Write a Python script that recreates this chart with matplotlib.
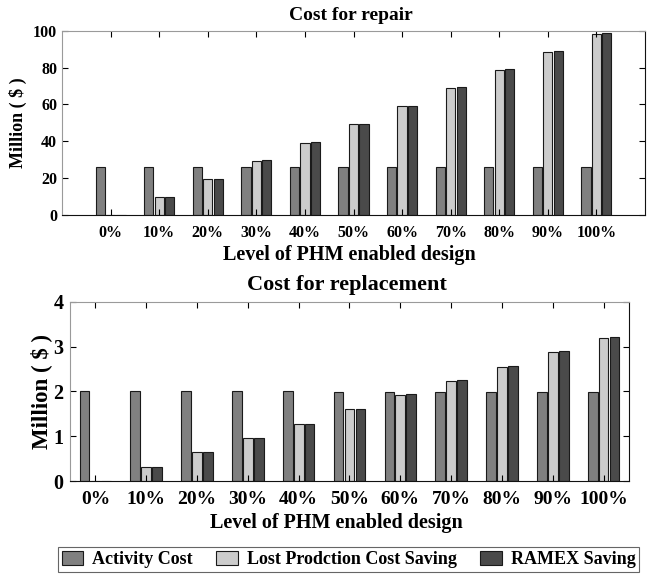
import matplotlib
matplotlib.use('Agg')
import matplotlib.pyplot as plt
import numpy as np

plt.rcParams['font.family'] = ['Liberation Serif', 'DejaVu Serif']
plt.rcParams['font.weight'] = 'bold'

levels = ['0%', '10%', '20%', '30%', '40%', '50%', '60%', '70%', '80%', '90%', '100%']
series_names = ['Activity Cost', 'Lost Prodction Cost Saving', 'RAMEX Saving']

# cost for repair (million $)
repair_activity = [26.3, 26.3, 26.3, 26.2, 26.1, 26.1, 26.0, 26.0, 25.9, 25.8, 25.8]
repair_lost = [0, 9.8, 19.7, 29.5, 39.3, 49.2, 59.0, 68.9, 78.7, 88.5, 98.4]
repair_ramex = [0, 9.9, 19.8, 29.6, 39.5, 49.4, 59.3, 69.2, 79.0, 88.9, 98.8]

# cost for replacement (million $)
replace_activity = [2.0, 2.0, 2.0, 2.0, 2.0, 1.99, 1.99, 1.99, 1.99, 1.98, 1.98]
replace_lost = [0, 0.32, 0.64, 0.96, 1.28, 1.60, 1.91, 2.23, 2.55, 2.87, 3.19]
replace_ramex = [0, 0.32, 0.64, 0.96, 1.28, 1.61, 1.93, 2.25, 2.57, 2.89, 3.21]

colors = ['#808080', '#cccccc', '#4a4a4a']


def draw_panel(ax, data, ylim, yticks, xlim, title, sizes):
    x = np.arange(1, len(levels) + 1)
    offs = [-0.215, 0, 0.215]
    bars = []
    for vals, off, c in zip(data, offs, colors):
        b = ax.bar(x + off, vals, width=0.19, color=c, edgecolor='#1a1a1a', linewidth=0.8)
        bars.append(b)
    ax.set_xlim(*xlim)
    ax.set_ylim(*ylim)
    ax.set_yticks(yticks)
    ax.set_xticks(x)
    ax.set_xticklabels(levels)
    ax.tick_params(axis='both', direction='in', top=True, right=True, length=4, width=0.8)
    ax.tick_params(axis='x', labelsize=sizes['xt'], pad=sizes['xpad'])
    ax.tick_params(axis='y', labelsize=sizes['yt'], pad=sizes['ypad'])
    for s in ['left', 'top']:
        ax.spines[s].set_color('#9a9a9a')
    for s in ['bottom', 'right']:
        ax.spines[s].set_color('#111111')
    ax.text(0.495, sizes['ty'], title, transform=ax.transAxes, ha='center', va='center',
            fontsize=sizes['title'], fontweight='bold')
    ax.set_xlabel('Level of PHM enabled design', fontsize=sizes['xl'], fontweight='bold')
    ax.xaxis.set_label_coords(sizes['xlx'], sizes['xly'])
    ax.set_ylabel('Million ( $ )', fontsize=sizes['yl'], fontweight='bold')
    ax.yaxis.set_label_coords(sizes['ylx'], 0.5)
    return bars


def main():
    fig = plt.figure(figsize=(6.48, 5.74), dpi=100)
    ax1 = fig.add_axes([0.0957, 0.6254, 0.8997, 0.3211])
    ax2 = fig.add_axes([0.108, 0.162, 0.8627, 0.3124])

    draw_panel(ax1, [repair_activity, repair_lost, repair_ramex], (0, 100), range(0, 101, 20),
               (0, 12), 'Cost for repair',
               dict(xt=11.5, yt=11.5, xpad=7, ypad=3.5, title=14, ty=1.08, xl=14.5,
                    xlx=0.493, xly=-0.163, yl=13, ylx=-0.060))
    bars = draw_panel(ax2, [replace_activity, replace_lost, replace_ramex], (0, 4), range(0, 5),
                      (0.5, 11.5), 'Cost for replacement',
                      dict(xt=14, yt=14.5, xpad=7, ypad=4.5, title=16, ty=1.093, xl=14.5,
                           xlx=0.476, xly=-0.178, yl=16.5, ylx=-0.032))

    leg = fig.legend(bars, series_names, loc='center', ncol=3, mode='expand',
                     bbox_to_anchor=(58 / 648, 1 - 572 / 574, 581 / 648, 25 / 574),
                     prop={'family': 'Liberation Serif', 'weight': 'bold', 'size': 13},
                     handlelength=1.2, handleheight=0.8, handletextpad=0.5,
                     columnspacing=0.4, borderpad=0.2, borderaxespad=0,
                     fancybox=False, framealpha=1)
    leg.get_frame().set_edgecolor('#666666')
    leg.get_frame().set_linewidth(0.8)

    fig.savefig('out.png', dpi=100)


if __name__ == '__main__':
    main()
